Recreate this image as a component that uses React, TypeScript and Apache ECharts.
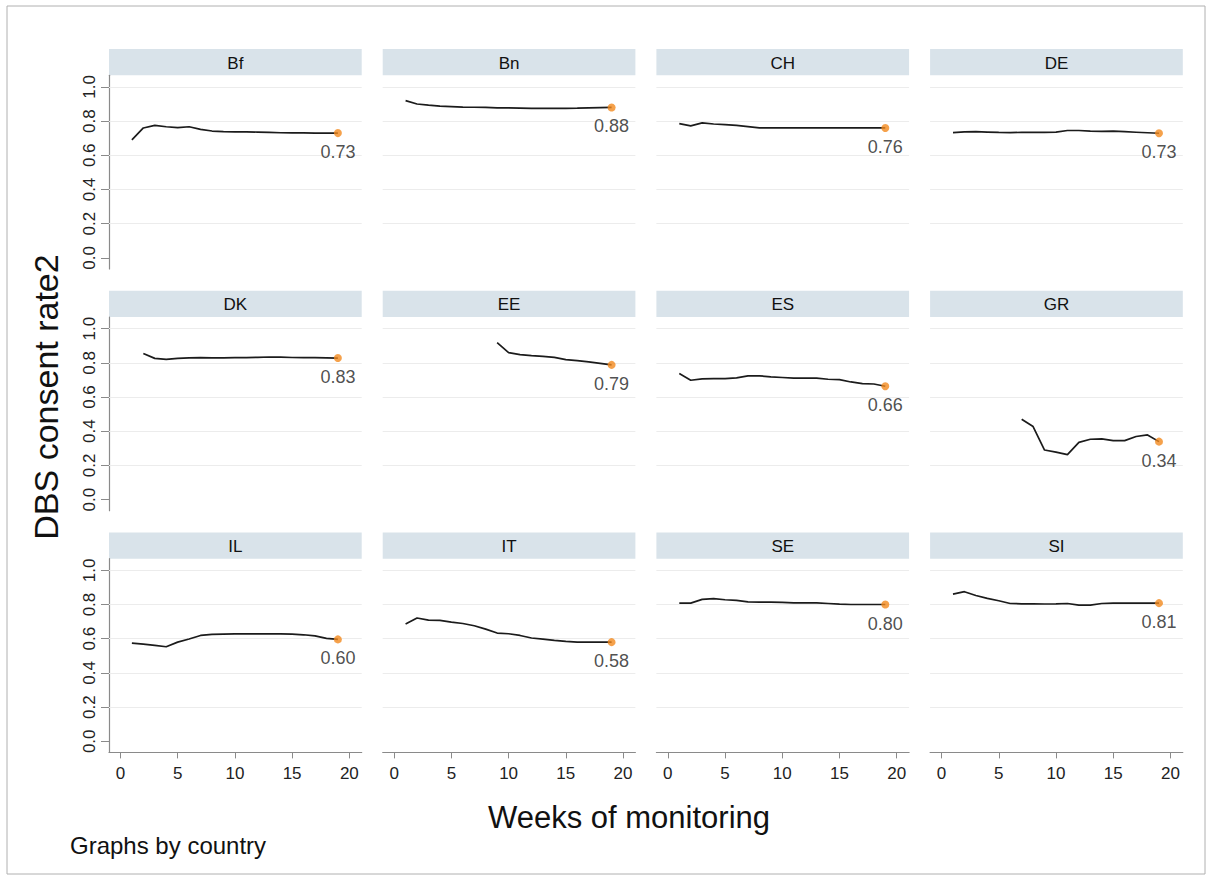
import React, { useEffect, useRef } from "react";
import * as echarts from "echarts";

const countries = ["Bf", "Bn", "CH", "DE", "DK", "EE", "ES", "GR", "IL", "IT", "SE", "SI"];
const weeks = [1, 2, 3, 4, 5, 6, 7, 8, 9, 10, 11, 12, 13, 14, 15, 16, 17, 18, 19];

const rateBf = [0.69, 0.76, 0.775, 0.767, 0.762, 0.767, 0.752, 0.742, 0.738, 0.737, 0.737, 0.736, 0.734, 0.732, 0.731, 0.731, 0.73, 0.73, 0.73];
const rateBn = [0.92, 0.9, 0.893, 0.888, 0.885, 0.882, 0.881, 0.88, 0.878, 0.877, 0.876, 0.875, 0.875, 0.875, 0.875, 0.876, 0.878, 0.879, 0.88];
const rateCH = [0.785, 0.772, 0.79, 0.783, 0.78, 0.775, 0.768, 0.76, 0.76, 0.76, 0.76, 0.76, 0.76, 0.76, 0.76, 0.76, 0.76, 0.76, 0.76];
const rateDE = [0.733, 0.737, 0.738, 0.736, 0.734, 0.733, 0.734, 0.735, 0.734, 0.736, 0.745, 0.745, 0.742, 0.74, 0.741, 0.738, 0.735, 0.732, 0.729];
const rateDK = [null, 0.855, 0.826, 0.82, 0.826, 0.829, 0.83, 0.829, 0.829, 0.83, 0.83, 0.832, 0.834, 0.833, 0.831, 0.83, 0.83, 0.829, 0.828];
const rateEE = [null, null, null, null, null, null, null, null, 0.918, 0.86, 0.848, 0.842, 0.838, 0.832, 0.819, 0.813, 0.805, 0.797, 0.788];
const rateES = [0.737, 0.698, 0.706, 0.708, 0.708, 0.712, 0.724, 0.724, 0.718, 0.714, 0.71, 0.71, 0.71, 0.704, 0.702, 0.688, 0.678, 0.676, 0.663];
const rateGR = [null, null, null, null, null, null, 0.47, 0.427, 0.29, 0.278, 0.263, 0.335, 0.353, 0.355, 0.345, 0.345, 0.369, 0.378, 0.339];
const rateIL = [0.574, 0.568, 0.561, 0.553, 0.58, 0.598, 0.619, 0.625, 0.627, 0.628, 0.628, 0.628, 0.628, 0.628, 0.627, 0.623, 0.617, 0.602, 0.596];
const rateIT = [0.686, 0.721, 0.709, 0.707, 0.697, 0.689, 0.676, 0.656, 0.633, 0.629, 0.619, 0.604, 0.598, 0.59, 0.584, 0.58, 0.58, 0.58, 0.58];
const rateSE = [0.808, 0.808, 0.83, 0.834, 0.828, 0.824, 0.816, 0.814, 0.814, 0.813, 0.81, 0.81, 0.81, 0.806, 0.802, 0.8, 0.8, 0.8, 0.8];
const rateSI = [0.861, 0.875, 0.853, 0.836, 0.822, 0.806, 0.804, 0.804, 0.803, 0.804, 0.806, 0.796, 0.796, 0.806, 0.808, 0.808, 0.808, 0.808, 0.808];

const rates = [rateBf, rateBn, rateCH, rateDE, rateDK, rateEE, rateES, rateGR, rateIL, rateIT, rateSE, rateSI];

const yTicks = [0, 0.2, 0.4, 0.6, 0.8, 1.0];
const yGridLines = [0.2, 0.4, 0.6, 0.8, 1.0];
const xTicks = [0, 5, 10, 15, 20];

const yTitle = "DBS consent rate2";
const xTitle = "Weeks of monitoring";
const note = "Graphs by country";

const FONT = "'Liberation Sans', Arial, Helvetica, sans-serif";

export default function App() {
  const ref = useRef<HTMLDivElement>(null);

  useEffect(() => {
    if (!ref.current) return;
    const chart = echarts.init(ref.current, undefined, { renderer: "svg" });

    const colLeft = 109;
    const colStep = 273.7;
    const colW = 252.7;
    const rowTop = 75.3;
    const rowStep = 241.7;
    const rowH = 193.7;
    const headH = 26.3;

    const grids: any[] = [];
    const xAxes: any[] = [];
    const yAxes: any[] = [];
    const series: any[] = [];
    const graphics: any[] = [];

    graphics.push({
      type: "rect",
      shape: { x: 7, y: 6, width: 1198, height: 868 },
      style: { fill: "none", stroke: "#b0b0b0", lineWidth: 1 },
      silent: true,
    });

    countries.forEach((name, i) => {
      const r = Math.floor(i / 4);
      const c = i % 4;
      const left = colLeft + colStep * c;
      const top = rowTop + rowStep * r;
      grids.push({ left, top, width: colW, height: rowH, containLabel: false });

      graphics.push({
        type: "rect",
        shape: { x: left, y: top - headH, width: colW, height: headH },
        style: { fill: "#d9e3ea" },
        silent: true,
      });
      graphics.push({
        type: "text",
        x: left + colW / 2,
        y: top - headH / 2 + 1,
        style: {
          text: name,
          fill: "#111",
          font: `17px ${FONT}`,
          align: "center",
          verticalAlign: "middle",
        },
        silent: true,
      });

      const showX = r === 2;
      const showY = c === 0;

      xAxes.push({
        type: "value",
        gridIndex: i,
        min: -1,
        max: 21.08,
        show: showX,
        axisLine: { show: true, onZero: false, lineStyle: { color: "#8a8a8a", width: 1.2 } },
        axisTick: { show: true, length: 6, customValues: xTicks, lineStyle: { color: "#8a8a8a" } },
        axisLabel: {
          show: true,
          customValues: xTicks,
          fontSize: 17,
          fontFamily: FONT,
          color: "#222",
          margin: 13,
        },
        splitLine: { show: false },
      });

      yAxes.push({
        type: "value",
        gridIndex: i,
        min: -0.065,
        max: 1.068,
        show: showY,
        axisLine: { show: true, onZero: false, lineStyle: { color: "#8a8a8a", width: 1.2 } },
        axisTick: { show: true, length: 8, customValues: yTicks, lineStyle: { color: "#8a8a8a" } },
        axisLabel: {
          show: true,
          customValues: yTicks,
          rotate: 90,
          fontSize: 17,
          fontFamily: FONT,
          color: "#222",
          margin: 11,
          formatter: (v: number) => v.toFixed(1),
        },
        splitLine: { show: false },
      });

      const vals = rates[i];
      const pts: number[][] = [];
      weeks.forEach((w, k) => {
        if (vals[k] !== null && vals[k] !== undefined) pts.push([w, vals[k] as number]);
      });
      const last = pts[pts.length - 1];

      series.push({
        type: "line",
        xAxisIndex: i,
        yAxisIndex: i,
        data: pts,
        showSymbol: false,
        symbol: "none",
        lineStyle: { color: "#1b1b1b", width: 1.7 },
        silent: true,
        z: 3,
        markLine: {
          silent: true,
          symbol: "none",
          label: { show: false },
          lineStyle: { color: "#ececec", width: 1, type: "solid" },
          data: yGridLines.map((v) => ({ yAxis: v })),
          z: 1,
        },
      });
      series.push({
        type: "scatter",
        xAxisIndex: i,
        yAxisIndex: i,
        data: [last],
        symbol: "circle",
        symbolSize: 8,
        itemStyle: { color: "#f28a1e" },
        silent: true,
        z: 4,
        label: {
          show: true,
          position: "bottom",
          distance: 6,
          fontSize: 18,
          fontFamily: FONT,
          color: "#222",
          formatter: (p: any) => (p.value[1] as number).toFixed(2),
        },
      });
    });

    graphics.push({
      type: "text",
      x: 46,
      y: 397,
      rotation: Math.PI / 2,
      style: {
        text: yTitle,
        fill: "#111",
        font: `34px ${FONT}`,
        align: "center",
        verticalAlign: "middle",
      },
      silent: true,
    });
    graphics.push({
      type: "text",
      x: 629,
      y: 817,
      style: {
        text: xTitle,
        fill: "#111",
        font: `31px ${FONT}`,
        align: "center",
        verticalAlign: "middle",
      },
      silent: true,
    });
    graphics.push({
      type: "text",
      x: 70,
      y: 845,
      style: {
        text: note,
        fill: "#111",
        font: `24px ${FONT}`,
        align: "left",
        verticalAlign: "middle",
      },
      silent: true,
    });

    chart.setOption({
      animation: false,
      backgroundColor: "#ffffff",
      grid: grids,
      xAxis: xAxes,
      yAxis: yAxes,
      series,
      graphic: graphics,
    });

    return () => chart.dispose();
  }, []);

  return (
    <div
      ref={ref}
      style={{ position: "fixed", left: 0, top: 0, width: 1212, height: 880 }}
    />
  );
}
